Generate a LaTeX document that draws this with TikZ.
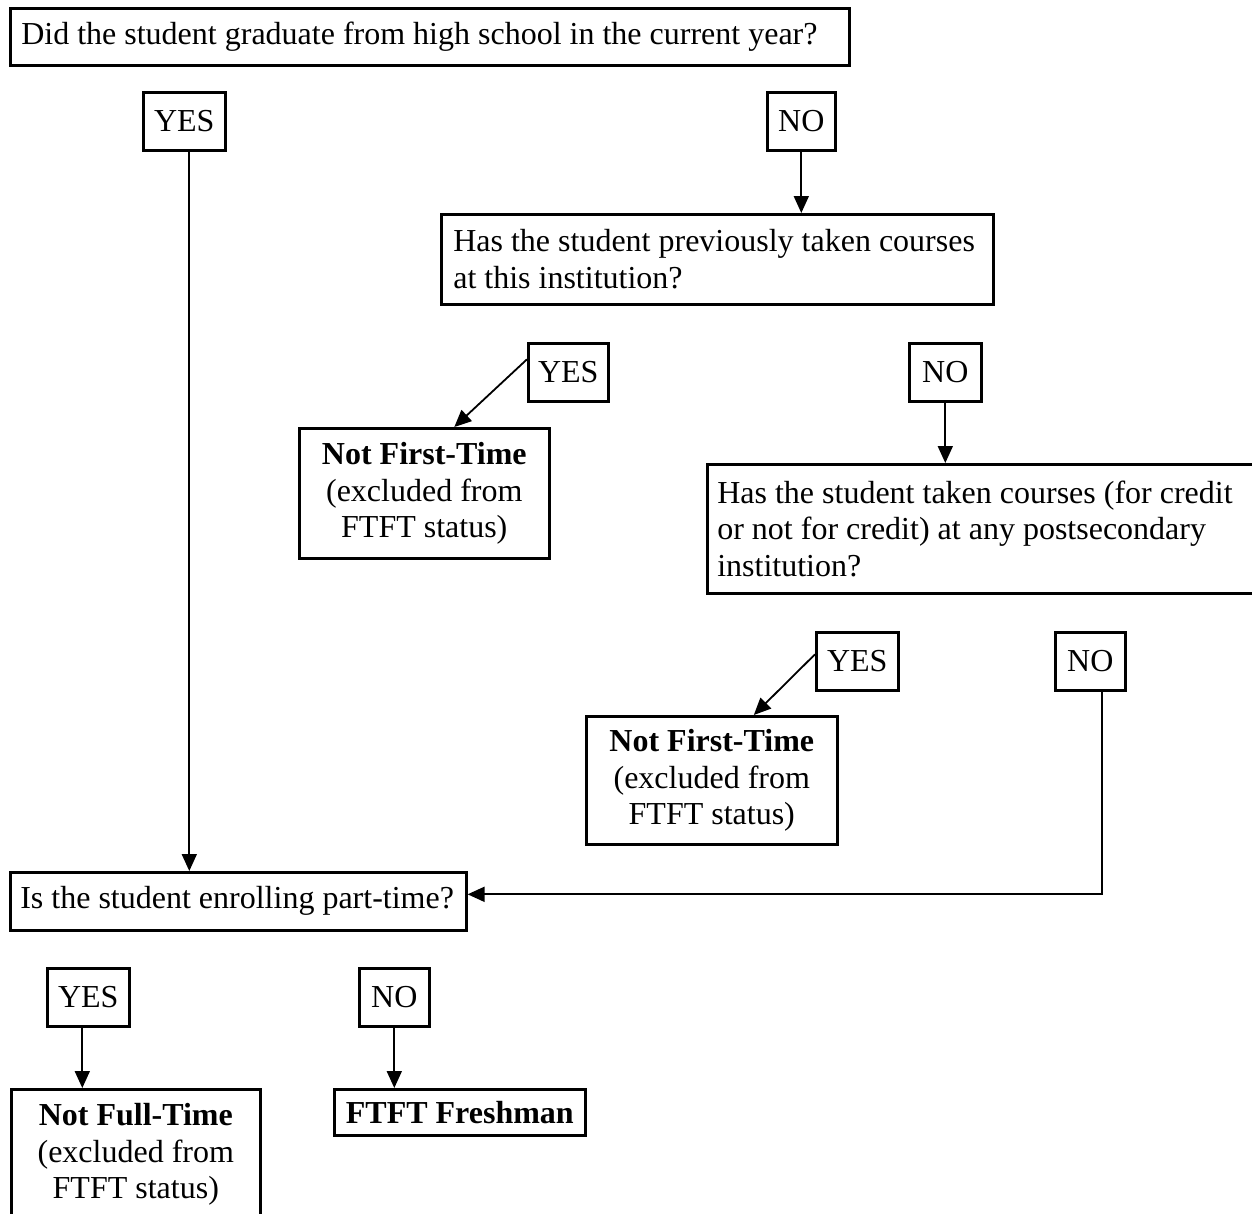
\documentclass[tikz,border=0pt]{standalone}
\usepackage{fontspec}
\setmainfont{Liberation Serif}
\usetikzlibrary{arrows.meta}

\begin{document}
\begin{tikzpicture}
	[x=1pt, y=-1pt, font=\fontsize{32}{36.5}\selectfont,
	 box/.style = {draw, line width=2.6pt, anchor=north west, inner xsep=11pt, inner ysep=0pt, align=flush left},
	 ans/.style = {draw, line width=2.6pt, anchor=north west, inner sep=0pt, minimum height=58pt},
	 res/.style = {draw, line width=2.6pt, anchor=north west, inner sep=0pt, align=center},
	 arr/.style = {-{Triangle[length=17pt, width=15pt]}, line width=1.8pt}]
	\useasboundingbox (0,0) rectangle (1252,1213);
	\node[box, text width=817, minimum height=57] (q1) at (9,7) {Did the student graduate from high school in the current year?};
	\node[ans, minimum width=82] (y1) at (142,91) {YES};
	\node[ans, minimum width=68] (n1) at (766,91) {NO};
	\node[box, inner xsep=12pt, text width=528, minimum height=90] (q2) at (440,213) {Has the student previously taken courses\\at this institution?};
	\node[ans, minimum width=80] (y2) at (527,342) {YES};
	\node[ans, minimum width=72] (n2) at (908,342) {NO};
	\node[res, minimum width=250, minimum height=130] (r1) at (298,427) {\textbf{Not First-Time}\\(excluded from\\FTFT status)};
	\node[box, inner xsep=10pt, text width=530, minimum height=129] (q3) at (706,463) {Has the student taken courses (for credit\\or not for credit) at any postsecondary\\institution?};
	\node[ans, minimum width=82] (y3) at (815,631) {YES};
	\node[ans, minimum width=70] (n3) at (1054,631) {NO};
	\node[res, minimum width=251, minimum height=128] (r2) at (585,715) {\textbf{Not First-Time}\\(excluded from\\FTFT status)};
	\node[box, inner xsep=10pt, text width=436, minimum height=58] (q4) at (9,871) {Is the student enrolling part-time?};
	\node[ans, minimum width=82] (y4) at (46,967) {YES};
	\node[ans, minimum width=70] (n4) at (358,967) {NO};
	\node[res, minimum width=249, minimum height=130] (r3) at (10,1088) {\textbf{Not Full-Time}\\(excluded from\\FTFT status)};
	\node[res, minimum width=251, minimum height=46] (r4) at (333,1088) {\textbf{FTFT Freshman}};
	\draw[arr] ([xshift=5pt]y1.south) -- ([xshift=5pt]y1.south |- q4.north);
	\draw[arr] (n1.south) -- (n1.south |- q2.north);
	\draw[arr] ([yshift=13pt]y2.west) -- ([xshift=30pt]r1.north);
	\draw[arr] (n2.south) -- (n2.south |- q3.north);
	\draw[arr] ([yshift=7pt]y3.west) -- ([xshift=42pt]r2.north);
	\draw[arr] ([xshift=12pt]n3.south) |- ([yshift=7pt]q4.east);
	\draw[arr] ([xshift=-6pt]y4.south) -- ([xshift=-6pt]y4.south |- r3.north);
	\draw[arr] (n4.south) -- (n4.south |- r4.north);
\end{tikzpicture}
\end{document}
